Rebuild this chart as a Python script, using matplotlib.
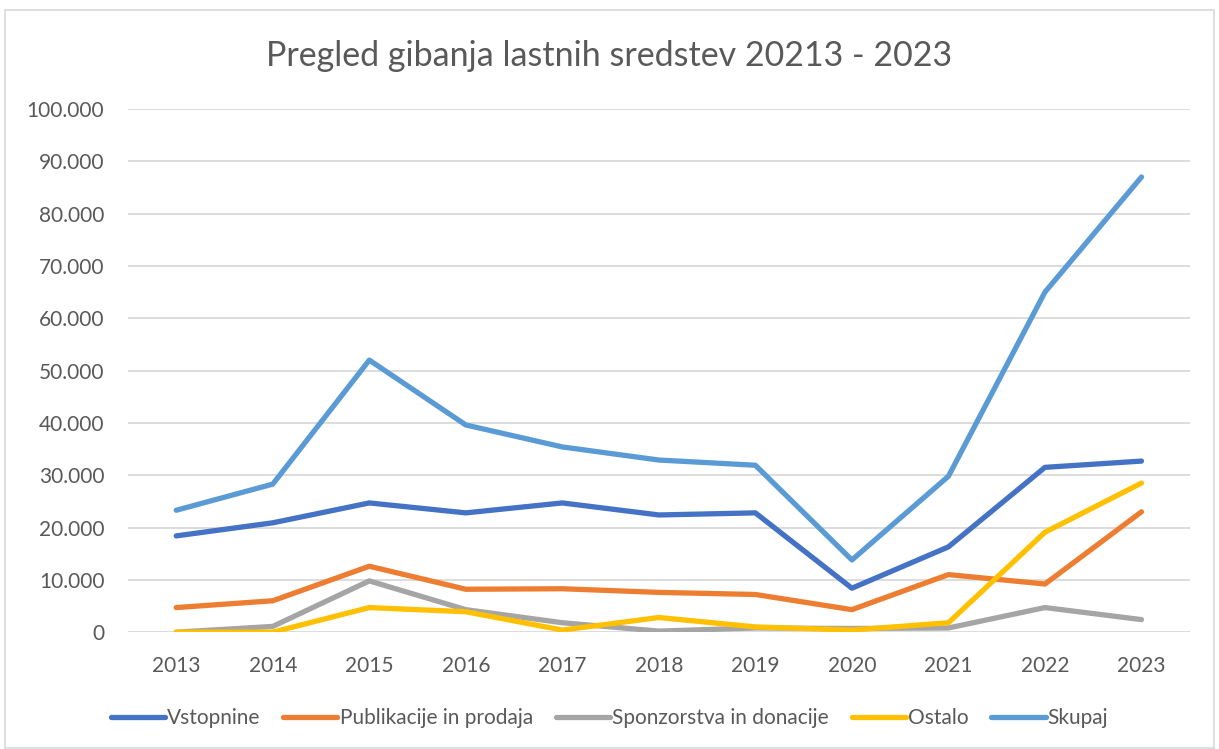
import matplotlib.pyplot as plt
from matplotlib.ticker import FuncFormatter
from matplotlib.patches import Rectangle

# podatki
leta = ['2013', '2014', '2015', '2016', '2017', '2018', '2019', '2020', '2021', '2022', '2023']
vstopnine = [18400, 20900, 24700, 22800, 24700, 22400, 22800, 8400, 16300, 31500, 32700]
publikacije = [4700, 6000, 12600, 8200, 8300, 7600, 7200, 4300, 11000, 9200, 23000]
sponzorstva = [0, 1100, 9800, 4300, 1800, 200, 800, 700, 800, 4700, 2400]
ostalo = [0, 0, 4700, 3900, 400, 2800, 1000, 400, 1800, 19100, 28500]
skupaj = [23300, 28300, 52000, 39600, 35400, 32900, 31900, 13800, 29800, 65000, 87000]

serije = [
    ('Vstopnine', vstopnine, '#4472C4'),
    ('Publikacije in prodaja', publikacije, '#ED7D31'),
    ('Sponzorstva in donacije', sponzorstva, '#A5A5A5'),
    ('Ostalo', ostalo, '#FFC000'),
    ('Skupaj', skupaj, '#5B9BD5'),
]

plt.rcParams['font.family'] = ['Lato', 'DejaVu Sans']
siva = '#595959'

fig = plt.figure(figsize=(12.19, 7.49), dpi=100)
fig.patches.append(Rectangle((0.004, 0.002), 0.992, 0.985, transform=fig.transFigure,
                             fill=False, edgecolor='#D9D9D9', linewidth=1.2))

ax = fig.add_axes([0.105, 0.156, 0.871, 0.6985])
x = range(len(leta))
for ime, vrednosti, barva in serije:
    ax.plot(x, vrednosti, color=barva, linewidth=3.8, label=ime, solid_capstyle='round')

ax.set_xlim(-0.5, len(leta) - 0.5)
ax.set_ylim(0, 100000)
ax.set_yticks(range(0, 100001, 10000))
ax.yaxis.set_major_formatter(FuncFormatter(lambda v, p: f'{int(v):,}'.replace(',', '.')))
ax.set_xticks(list(x))
ax.set_xticklabels(leta)
ax.tick_params(length=0, labelsize=15, labelcolor=siva)
ax.tick_params(axis='y', pad=17)
ax.tick_params(axis='x', pad=17)
ax.grid(axis='y', color='#D9D9D9', linewidth=1.3)
ax.set_axisbelow(True)
for s in ax.spines.values():
    s.set_visible(False)

fig.text(0.5, 0.925, 'Pregled gibanja lastnih sredstev 20213 - 2023', ha='center', va='center',
         fontsize=24.5, color=siva)

fig.legend(loc='center', bbox_to_anchor=(0.5, 0.041), ncol=5, frameon=False,
           fontsize=15, labelcolor=siva, handlelength=2.6, handletextpad=0.1, columnspacing=1.1)

fig.savefig('out.png', dpi=100)
